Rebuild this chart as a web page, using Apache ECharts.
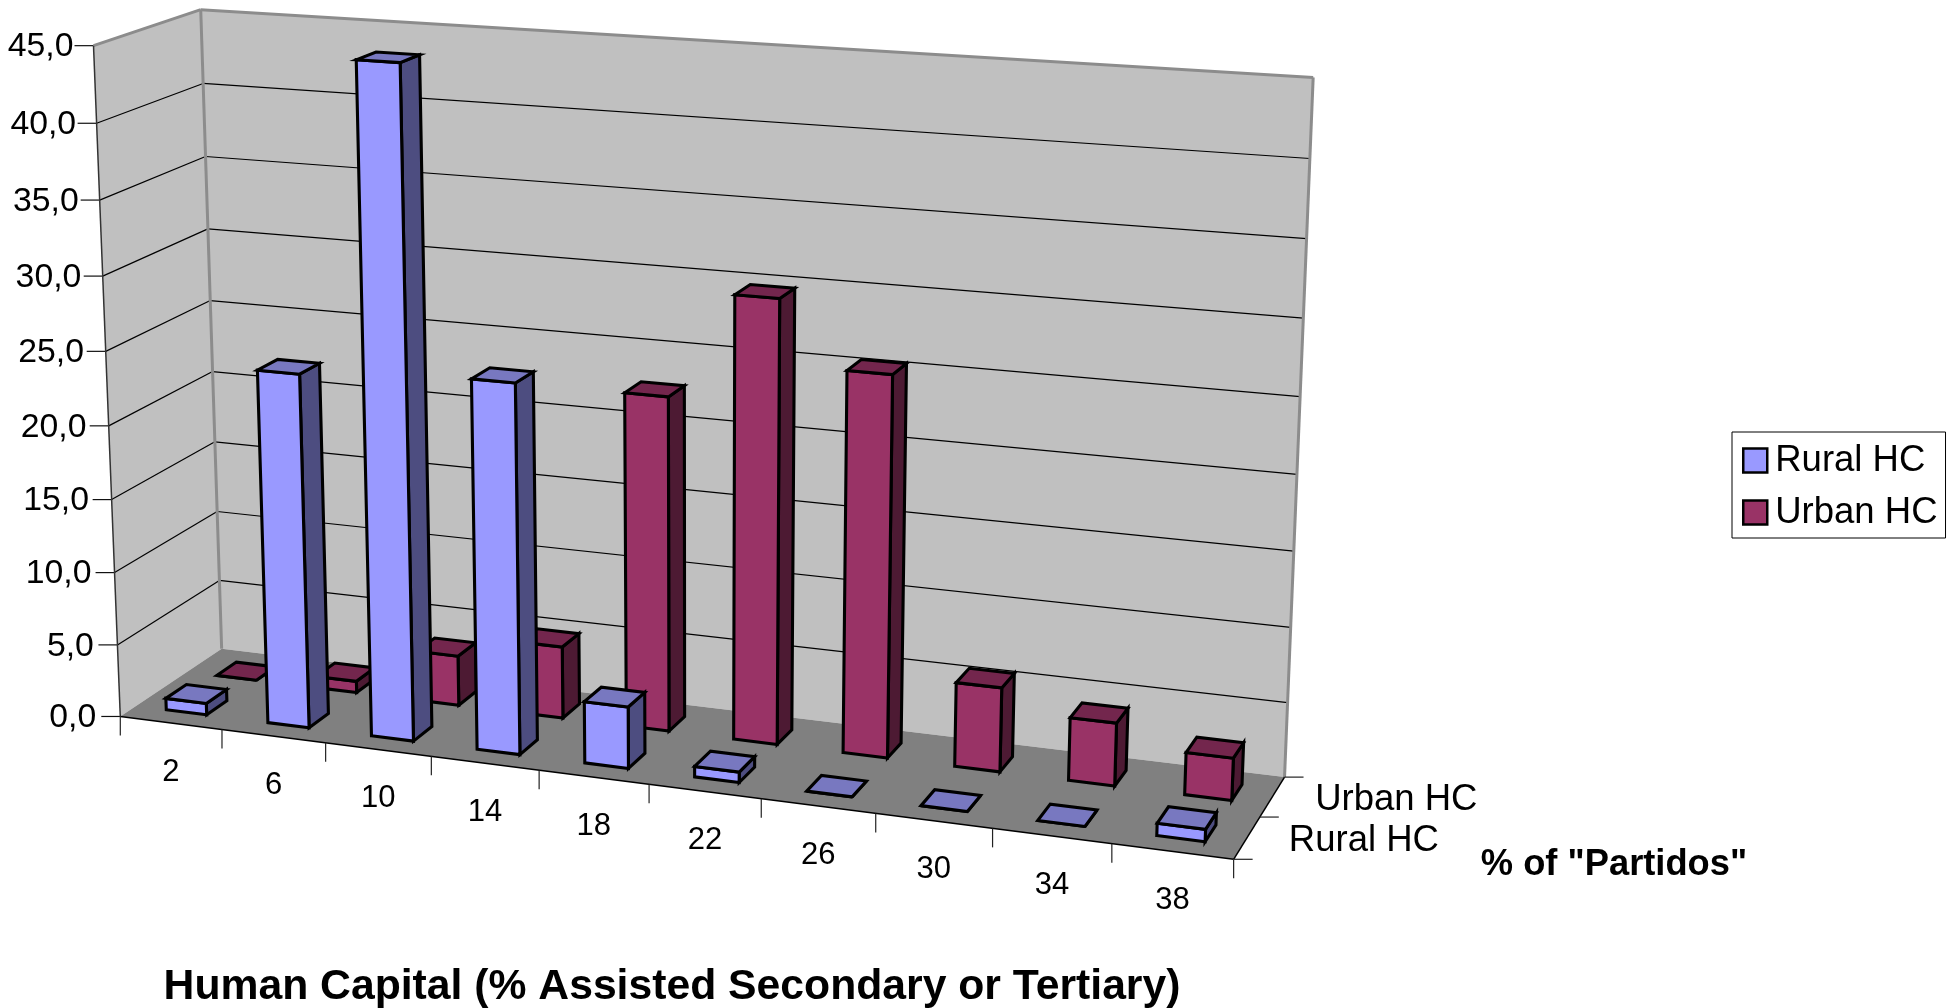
<!DOCTYPE html>
<html>
<head>
<meta charset="utf-8">
<style>html,body{margin:0;padding:0;background:#fff}#c{width:1954px;height:1008px}</style>
<script src="https://cdn.jsdelivr.net/npm/echarts@6/dist/echarts.min.js"></script>
</head>
<body>
<div id="c"></div>
<script>
const categories = ['2','6','10','14','18','22','26','30','34','38'];
const depthCategories = ['Rural HC','Urban HC'];
const valueTicks = [0,5,10,15,20,25,30,35,40,45];
const valueLabels = ['0,0','5,0','10,0','15,0','20,0','25,0','30,0','35,0','40,0','45,0'];
const ruralHC = [0.8,24.05,44.75,24.8,4.15,0.7,0,0,0,0.8];
const urbanHC = [0,0.8,3.45,4.95,22.7,29.8,25.5,5.65,4.2,2.8];
const xTitle = 'Human Capital (% Assisted Secondary or Tertiary)';
const zTitle = '% of "Partidos"';

// camera calibration: (u,d,v) box coords -> picture pixels
const calib = [
 [0,0,0,120,717],[0,1,0,222,648],[1,0,0,1233,859],[1,1,0,1285,777],
 [0,0,1,94,45],[0,1,1,200,10],[1,1,1,1314,77],
 [.5,0,0,649,785],[1,.5,0,1260,817],
 [0,1,8/9,203,84],[0,0,8/9,97,123],[1,1,8/9,1309,159]
];
function solveCamera(pts){
  const A=[],b=[];
  pts.forEach(([u,d,v,x,y])=>{
    A.push([u,d,v,1,0,0,0,0,-x*u,-x*d,-x*v]);b.push(x);
    A.push([0,0,0,0,u,d,v,1,-y*u,-y*d,-y*v]);b.push(y);
  });
  const n=11,M=[];
  for(let i=0;i<n;i++){M.push([]);for(let j=0;j<=n;j++){let s=0;
    for(let k=0;k<A.length;k++)s+=A[k][i]*(j<n?A[k][j]:b[k]);M[i].push(s);}}
  for(let i=0;i<n;i++){let p=i;for(let r=i+1;r<n;r++)if(Math.abs(M[r][i])>Math.abs(M[p][i]))p=r;
    [M[i],M[p]]=[M[p],M[i]];
    for(let r=0;r<n;r++){if(r===i)continue;const f=M[r][i]/M[i][i];for(let c=i;c<=n;c++)M[r][c]-=f*M[i][c];}}
  return M.map((row,i)=>row[n]/row[i]);
}
const P=solveCamera(calib);
function proj(u,d,v){
  const w=P[8]*u+P[9]*d+P[10]*v+1;
  return [(P[0]*u+P[1]*d+P[2]*v+P[3])/w,(P[4]*u+P[5]*d+P[6]*v+P[7])/w];
}
function txt(t,x,y,size,align,bold){
  return {type:'text',silent:true,style:{text:t,x:x,y:y,fill:'#000',align:align||'center',verticalAlign:'middle',
    fontFamily:'Liberation Sans',fontSize:size,fontWeight:bold?'bold':'normal'}};
}
function poly(pts,fill,stroke,lw){
  return {type:'polygon',silent:true,shape:{points:pts},style:{fill:fill,stroke:stroke||null,lineWidth:lw||0,lineJoin:'miter'}};
}
function line(a,b,stroke,lw){
  return {type:'line',silent:true,shape:{x1:a[0],y1:a[1],x2:b[0],y2:b[1]},style:{stroke:stroke,lineWidth:lw}};
}
function renderFrame(params,api){
  const cs=params.coordSys,kids=[];
  const nv=val=>(cs.y+cs.height-api.coord([0,val])[1])/cs.height;
  const bw=api.size([1,0])[0]/cs.width;
  // walls and floor
  kids.push(poly([proj(0,1,0),proj(1,1,0),proj(1,1,1),proj(0,1,1)],'#c0c0c0'));
  kids.push(poly([proj(0,0,0),proj(0,1,0),proj(0,1,1),proj(0,0,1)],'#c0c0c0'));
  kids.push(poly([proj(0,0,0),proj(1,0,0),proj(1,1,0),proj(0,1,0)],'#808080'));
  // gridlines
  valueTicks.forEach((t,i)=>{
    const v=nv(t);
    if(i>0&&i<valueTicks.length-1){
      kids.push(line(proj(0,0,v),proj(0,1,v),'#000',1.2));
      kids.push(line(proj(0,1,v),proj(1,1,v),'#000',1.2));
    }
    const p=proj(0,0,v);
    kids.push(line([p[0]-19,p[1]],p,'#111',1.2));
    kids.push(txt(valueLabels[i],p[0]-24+4*v,p[1]+1.5,33.8,'right'));
  });
  // frame edges
  kids.push(line(proj(0,1,0),proj(0,1,1),'#8c8c8c',3));
  kids.push(line(proj(1,1,0),proj(1,1,1),'#8c8c8c',3));
  kids.push(line(proj(0,1,1),proj(1,1,1),'#8c8c8c',3));
  kids.push(line(proj(0,0,1),proj(0,1,1),'#8c8c8c',3));
  kids.push(line(proj(0,0,0),proj(0,0,1),'#333',1.5));
  kids.push(line(proj(0,0,0),proj(1,0,0),'#000',1.5));
  kids.push(line(proj(1,0,0),proj(1,1,0),'#000',1.5));
  // category ticks and labels
  for(let i=0;i<=categories.length;i++){
    const p=proj(i*bw,0,0);
    kids.push(line(p,[p[0],p[1]+19],'#222',1.2));
  }
  categories.forEach((c,i)=>{
    const p=proj((i+.5)*bw,0,0);
    kids.push(txt(c,p[0],p[1]+49,31));
  });
  // depth ticks and labels
  for(let i=0;i<=depthCategories.length;i++){
    const p=proj(1,i/depthCategories.length,0);
    kids.push(line(p,[p[0]+19,p[1]],'#222',1.2));
  }
  depthCategories.forEach((c,i)=>{
    const p=proj(1,(i+.5)/depthCategories.length,0);
    kids.push(txt(c,p[0]+117+7*i,p[1]+3,36.5));
  });
  return {type:'group',children:kids};
}
function barRenderer(row,front,side,top){
  return function(params,api){
    const cs=params.coordSys;
    const i=api.value(0),val=api.value(1);
    const c=api.coord([i,0]),t=api.coord([i,val]);
    const u=(c[0]-cs.x)/cs.width,hw=api.size([1,0])[0]/cs.width*0.2;
    const v=(cs.y+cs.height-t[1])/cs.height;
    const u0=u-hw,u1=u+hw,d0=(row+.3)/depthCategories.length,d1=(row+.7)/depthCategories.length;
    const lw=3.1,k='#000';
    return {type:'group',children:[
      poly([proj(u1,d0,0),proj(u1,d1,0),proj(u1,d1,v),proj(u1,d0,v)],side,k,lw),
      poly([proj(u0,d0,0),proj(u1,d0,0),proj(u1,d0,v),proj(u0,d0,v)],front,k,lw),
      poly([proj(u0,d0,v),proj(u1,d0,v),proj(u1,d1,v),proj(u0,d1,v)],top,k,lw)
    ]};
  };
}
const toData=a=>a.map((v,i)=>[i,v]);
const chart=echarts.init(document.getElementById('c'),null,{renderer:'canvas'});
chart.setOption({
  animation:false,
  backgroundColor:'#fff',
  textStyle:{fontFamily:'Liberation Sans'},
  title:[
    {text:xTitle,left:667,top:982,textAlign:'center',textVerticalAlign:'middle',textStyle:{fontSize:42.7,fontWeight:'bold',color:'#000',fontFamily:'Liberation Sans'}},
    {text:zTitle,left:1609,top:860,textAlign:'center',textVerticalAlign:'middle',textStyle:{fontSize:36.3,fontWeight:'bold',color:'#000',fontFamily:'Liberation Sans'}}
  ],
  grid:{left:120,top:10,width:1113,height:707},
  xAxis:{type:'category',data:categories,show:false},
  yAxis:{type:'value',min:0,max:45,interval:5,show:false},
  legend:{
    left:1732,top:432,orient:'vertical',
    padding:[10,8,7,10],itemGap:15,itemWidth:24,itemHeight:24,
    backgroundColor:'#fff',borderColor:'#000',borderWidth:1,borderRadius:0,
    textStyle:{fontSize:36.5,color:'#000',fontFamily:'Liberation Sans',padding:[0,0,0,3]},
    data:[
      {name:'Rural HC',icon:'rect',itemStyle:{color:'#9999ff',borderColor:'#000',borderWidth:2.5}},
      {name:'Urban HC',icon:'rect',itemStyle:{color:'#993366',borderColor:'#000',borderWidth:2.5}}
    ]
  },
  series:[
    {type:'custom',name:'frame',z:1,data:[[0,0]],renderItem:renderFrame,silent:true},
    {type:'custom',name:'Urban HC',z:2,data:toData(urbanHC),renderItem:barRenderer(1,'#993366','#4d1a33','#73264d'),itemStyle:{color:'#993366'},silent:true},
    {type:'custom',name:'Rural HC',z:3,data:toData(ruralHC),renderItem:barRenderer(0,'#9999ff','#4d4d80','#7878c0'),itemStyle:{color:'#9999ff'},silent:true}
  ]
});
</script>
</body>
</html>
